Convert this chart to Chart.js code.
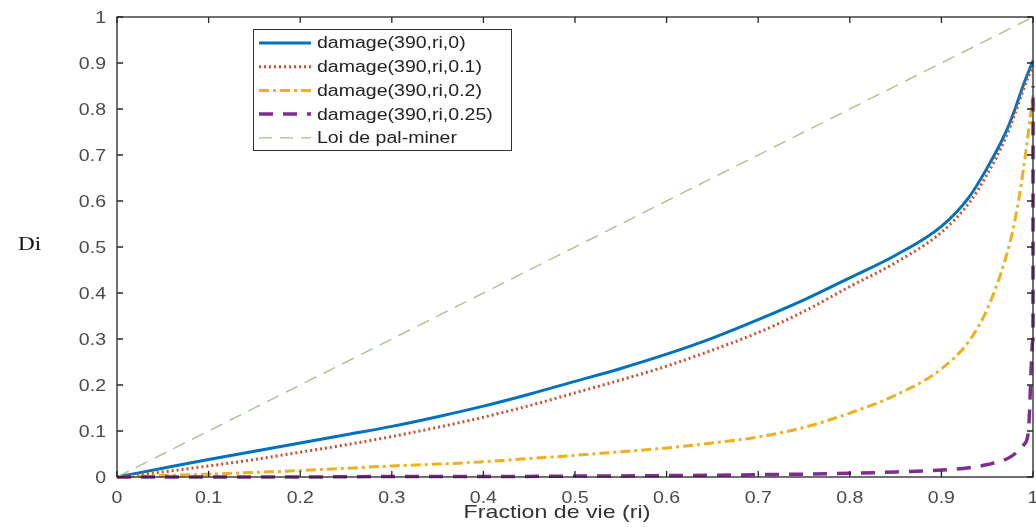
<!DOCTYPE html>
<html>
<head>
<meta charset="utf-8">
<script src="https://cdn.jsdelivr.net/npm/chart.js@4/dist/chart.umd.min.js"></script>
<style>
html,body{margin:0;padding:0;background:#fff;}
#wrap{width:1036px;height:531px;position:relative;}
</style>
</head>
<body>
<div id="wrap"><canvas id="c" width="1036" height="531"></canvas></div>
<script>
// ---- data ----
const ri = [0,0.05,0.1,0.15,0.2,0.25,0.3,0.35,0.4,0.45,0.5,0.55,0.6,0.65,0.7,0.75,0.8,0.85,0.9,0.93,0.95,0.97,0.98,0.99,1.0];
const dmg0   = [0,0.019,0.038,0.056,0.074,0.092,0.110,0.131,0.154,0.180,0.208,0.236,0.267,0.302,0.342,0.385,0.433,0.482,0.545,0.608,0.672,0.748,0.798,0.855,0.905];
const dmg01  = [0,0.011,0.024,0.038,0.054,0.070,0.088,0.108,0.130,0.155,0.183,0.211,0.241,0.276,0.314,0.360,0.414,0.466,0.532,0.595,0.658,0.737,0.788,0.845,0.895];
const dmg02  = [0,0.003,0.006,0.010,0.014,0.019,0.024,0.028,0.033,0.040,0.047,0.055,0.063,0.074,0.087,0.108,0.139,0.178,0.235,0.295,0.365,0.475,0.555,0.675,0.830];
const ri25   = [0,0.1,0.2,0.3,0.4,0.5,0.6,0.7,0.8,0.85,0.9,0.93,0.95,0.97,0.98,0.99,0.995,1.0,1.0];
const dmg025 = [0,0,0,0.001,0.001,0.002,0.003,0.005,0.008,0.011,0.015,0.020,0.027,0.038,0.050,0.070,0.100,0.300,0.850];
const riPM   = [0,1];
const dmgPM  = [0,1];
const seriesLabels = ['damage(390,ri,0)','damage(390,ri,0.1)','damage(390,ri,0.2)','damage(390,ri,0.25)','Loi de pal-miner'];
const xTickLabels = ['0','0.1','0.2','0.3','0.4','0.5','0.6','0.7','0.8','0.9','1'];
const yTickLabels = ['0','0.1','0.2','0.3','0.4','0.5','0.6','0.7','0.8','0.9','1'];
const xTitle = 'Fraction de vie (ri)';
const yTitle = 'Di';

const pts = (xs, ys) => xs.map((x, i) => ({x: x, y: ys[i]}));

const datasets = [
  {label: seriesLabels[0], data: pts(ri, dmg0), borderColor: '#0072BD', borderWidth: 3, borderDash: [], order: 5},
  {label: seriesLabels[1], data: pts(ri, dmg01), borderColor: '#C8502A', borderWidth: 3, borderDash: [2, 3], order: 4},
  {label: seriesLabels[2], data: pts(ri, dmg02), borderColor: '#EDB120', borderWidth: 3, borderDash: [10, 4, 3, 4], order: 3},
  {label: seriesLabels[3], data: pts(ri25, dmg025), borderColor: '#7E2F8E', borderWidth: 3.5, borderDash: [14, 10], order: 2},
  {label: seriesLabels[4], data: pts(riPM, dmgPM), borderColor: '#A3BF88', borderWidth: 1.3, borderDash: [13, 8], order: 1}
].map(d => Object.assign(d, {pointRadius: 0, fill: false, cubicInterpolationMode: 'monotone', clip: false, backgroundColor: d.borderColor}));

const FONT = '"Liberation Sans", Arial, sans-serif';
const SX = 1.22; // horizontal text stretch of the reference

function stretchedText(ctx, text, x, y, align) {
  ctx.save();
  const w = ctx.measureText(text).width * SX;
  let left = x;
  if (align === 'center') left = x - w / 2;
  else if (align === 'right') left = x - w;
  ctx.translate(left, y);
  ctx.scale(SX, 1);
  ctx.textAlign = 'left';
  ctx.fillText(text, 0, 0);
  ctx.restore();
}

const framePlugin = {
  id: 'frame',
  afterDatasetsDraw(chart) {
    const ctx = chart.ctx, a = chart.chartArea;
    const xs = chart.scales.x, ys = chart.scales.y;
    ctx.save();
    ctx.strokeStyle = '#262626';
    ctx.lineWidth = 1.3;
    ctx.strokeRect(a.left, a.top, a.right - a.left, a.bottom - a.top);
    const tl = 6;
    ctx.beginPath();
    xTickLabels.forEach(t => {
      const px = xs.getPixelForValue(parseFloat(t));
      ctx.moveTo(px, a.bottom); ctx.lineTo(px, a.bottom - tl);
      ctx.moveTo(px, a.top); ctx.lineTo(px, a.top + tl);
    });
    yTickLabels.forEach(t => {
      const py = ys.getPixelForValue(parseFloat(t));
      ctx.moveTo(a.left, py); ctx.lineTo(a.left + tl, py);
      ctx.moveTo(a.right, py); ctx.lineTo(a.right - tl, py);
    });
    ctx.stroke();

    // tick labels
    ctx.fillStyle = '#4a4a4a';
    ctx.font = '16px ' + FONT;
    ctx.textBaseline = 'alphabetic';
    xTickLabels.forEach(t => {
      stretchedText(ctx, t, xs.getPixelForValue(parseFloat(t)), 502.5, 'center');
    });
    ctx.textBaseline = 'middle';
    yTickLabels.forEach(t => {
      stretchedText(ctx, t, 106, ys.getPixelForValue(parseFloat(t)) + 2, 'right');
    });

    // legend
    const lx = 253, ly = 29, lw = 258, lh = 121;
    ctx.fillStyle = '#fff';
    ctx.fillRect(lx, ly, lw, lh);
    ctx.strokeStyle = '#333';
    ctx.lineWidth = 1;
    ctx.strokeRect(lx + 0.5, ly + 0.5, lw, lh);
    ctx.font = '16px ' + FONT;
    ctx.textBaseline = 'middle';
    [0,1,2,3,4].forEach((i, k) => {
      const ds = chart.data.datasets[i];
      const yy = ly + 14 + k * 23.7;
      ctx.save();
      ctx.strokeStyle = ds.borderColor;
      ctx.lineWidth = ds.borderWidth;
      ctx.setLineDash(ds.borderDash || []);
      ctx.beginPath();
      ctx.moveTo(lx + 6, yy); ctx.lineTo(lx + 58, yy);
      ctx.stroke();
      ctx.restore();
      ctx.fillStyle = '#222';
      stretchedText(ctx, ds.label, lx + 64, yy + 1, 'left');
    });

    // axis titles
    ctx.fillStyle = '#111';
    ctx.font = '19px "Liberation Serif", "Times New Roman", serif';
    ctx.textBaseline = 'alphabetic';
    stretchedText(ctx, yTitle, 18, 250, 'left');
    ctx.font = '19px ' + FONT;
    ctx.fillStyle = '#333';
    stretchedText(ctx, xTitle, 557, 518, 'center');
    ctx.restore();
  }
};

new Chart(document.getElementById('c'), {
  type: 'line',
  data: {datasets: datasets},
  options: {
    responsive: false,
    animation: false,
    layout: {padding: {top: 17, right: 3, left: 0, bottom: 0}},
    plugins: {legend: {display: false}, tooltip: {enabled: false}},
    scales: {
      x: {
        type: 'linear', min: 0, max: 1,
        grid: {display: false, drawTicks: false},
        border: {display: false},
        afterFit(s) { s.height = 54; },
        afterBuildTicks(s) { s.ticks = xTickLabels.map(t => ({value: parseFloat(t)})); },
        ticks: {display: false}
      },
      y: {
        type: 'linear', min: 0, max: 1,
        grid: {display: false, drawTicks: false},
        border: {display: false},
        afterFit(s) { s.width = 117; },
        afterBuildTicks(s) { s.ticks = yTickLabels.map(t => ({value: parseFloat(t)})); },
        ticks: {display: false}
      }
    }
  },
  plugins: [framePlugin]
});
</script>
</body>
</html>
